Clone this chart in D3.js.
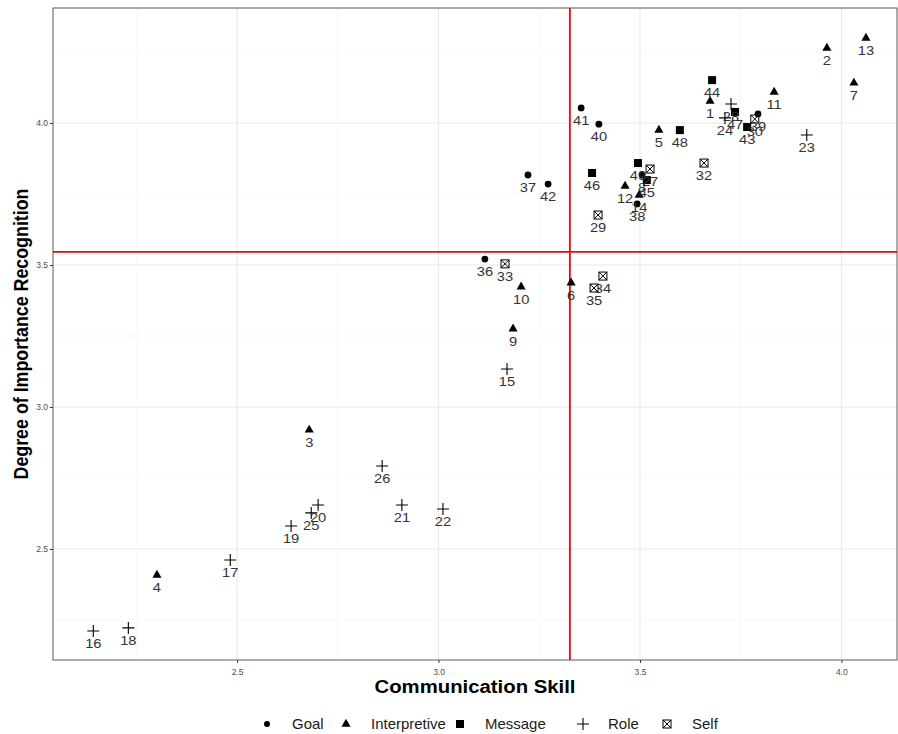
<!DOCTYPE html>
<html>
<head>
<meta charset="utf-8">
<script src="https://cdn.jsdelivr.net/npm/d3@7"></script>
<style>
  body { margin: 0; background: #fff; }
  text { font-family: "Liberation Sans", Arial, sans-serif; }
</style>
</head>
<body>
<div class="canvas"></div>
<script>
// item numbers, their type, communication skill (x) and importance recognition (y)
const ids = [41, 40, 37, 42, 36, 38, 39, 8,
  13, 2, 7, 11, 1, 5, 12, 14, 6, 10, 9, 3, 4,
  44, 48, 46, 49, 45, 47, 43,
  28, 24, 23, 15, 26, 20, 25, 21, 22, 19, 17, 16, 18,
  32, 29, 33, 34, 35, 27, 30];
const types = ['Goal', 'Goal', 'Goal', 'Goal', 'Goal', 'Goal', 'Goal', 'Goal',
  'Interpretive', 'Interpretive', 'Interpretive', 'Interpretive', 'Interpretive', 'Interpretive', 'Interpretive',
  'Interpretive', 'Interpretive', 'Interpretive', 'Interpretive', 'Interpretive', 'Interpretive',
  'Message', 'Message', 'Message', 'Message', 'Message', 'Message', 'Message',
  'Role', 'Role', 'Role', 'Role', 'Role', 'Role', 'Role', 'Role', 'Role', 'Role', 'Role', 'Role', 'Role',
  'Self', 'Self', 'Self', 'Self', 'Self', 'Self', 'Self'];
const commSkill = [3.354, 3.398, 3.222, 3.272, 3.115, 3.493, 3.793, 3.505,
  4.061, 3.964, 4.031, 3.833, 3.674, 3.547, 3.463, 3.498, 3.329, 3.205, 3.185, 2.679, 2.301,
  3.679, 3.599, 3.381, 3.495, 3.517, 3.736, 3.766,
  3.726, 3.711, 3.914, 3.170, 2.860, 2.701, 2.684, 2.909, 3.011, 2.634, 2.483, 2.143, 2.230,
  3.659, 3.396, 3.165, 3.408, 3.386, 3.525, 3.785];
const importance = [4.053, 3.996, 3.817, 3.785, 3.521, 3.715, 4.032, 3.817,
  4.299, 4.264, 4.141, 4.109, 4.077, 3.975, 3.778, 3.746, 3.437, 3.423, 3.275, 2.919, 2.408,
  4.151, 3.975, 3.824, 3.859, 3.799, 4.039, 3.986,
  4.067, 4.018, 3.958, 3.134, 2.792, 2.655, 2.627, 2.655, 2.641, 2.581, 2.461, 2.211, 2.222,
  3.859, 3.676, 3.504, 3.461, 3.419, 3.838, 4.014];

const categories = ['Goal', 'Interpretive', 'Message', 'Role', 'Self'];
const tickValues = [2.5, 3.0, 3.5, 4.0];
const minorTicksX = [2.25, 2.75, 3.25, 3.75];
const minorTicksY = [2.25, 2.75, 3.25, 3.75, 4.25];
const meanSkill = 3.326;       // red vertical line
const meanImportance = 3.546;  // red horizontal line

const data = ids.map((id, i) => ({ id, type: types[i], x: commSkill[i], y: importance[i] }));

const width = 898, height = 734;
const panel = { left: 53, right: 897, top: 8, bottom: 660 };
const stretch = 1.13; // the reference text is a little wider than tall

const svg = d3.select('.canvas').append('svg')
  .attr('width', width)
  .attr('height', height);

const xScale = d3.scaleLinear().domain([2.043, 4.138]).range([panel.left, panel.right]);
const yScale = d3.scaleLinear().domain([2.109, 4.405]).range([panel.bottom, panel.top]);

// grid
const grid = svg.append('g');
grid.selectAll('.minx').data(minorTicksX).join('line')
  .attr('x1', d => xScale(d)).attr('x2', d => xScale(d))
  .attr('y1', panel.top).attr('y2', panel.bottom)
  .attr('stroke', '#f4f4f4').attr('stroke-width', 0.6);
grid.selectAll('.miny').data(minorTicksY).join('line')
  .attr('y1', d => yScale(d)).attr('y2', d => yScale(d))
  .attr('x1', panel.left).attr('x2', panel.right)
  .attr('stroke', '#f4f4f4').attr('stroke-width', 0.6);
grid.selectAll('.majx').data(tickValues).join('line')
  .attr('x1', d => xScale(d)).attr('x2', d => xScale(d))
  .attr('y1', panel.top).attr('y2', panel.bottom)
  .attr('stroke', '#e8e8e8').attr('stroke-width', 1.1);
grid.selectAll('.majy').data(tickValues).join('line')
  .attr('y1', d => yScale(d)).attr('y2', d => yScale(d))
  .attr('x1', panel.left).attr('x2', panel.right)
  .attr('stroke', '#e8e8e8').attr('stroke-width', 1.1);

// axes
const xAxis = svg.append('g')
  .attr('transform', `translate(0,${panel.bottom})`)
  .call(d3.axisBottom(xScale).tickValues(tickValues).tickFormat(d3.format('.1f')).tickSize(3).tickSizeOuter(0));
const yAxis = svg.append('g')
  .attr('transform', `translate(${panel.left},0)`)
  .call(d3.axisLeft(yScale).tickValues(tickValues).tickFormat(d3.format('.1f')).tickSize(3).tickSizeOuter(0));
[xAxis, yAxis].forEach(a => {
  a.select('.domain').remove();
  a.selectAll('line').attr('stroke', '#333');
  a.selectAll('text').attr('fill', '#4d4d4d').style('font-size', '8.5px');
});
xAxis.selectAll('text').attr('y', 9);
yAxis.selectAll('text').attr('x', -5);

// panel border
svg.append('rect')
  .attr('x', panel.left).attr('y', panel.top)
  .attr('width', panel.right - panel.left).attr('height', panel.bottom - panel.top)
  .attr('fill', 'none').attr('stroke', '#333').attr('stroke-width', 0.8);

// reference lines
svg.append('line')
  .attr('x1', xScale(meanSkill)).attr('x2', xScale(meanSkill))
  .attr('y1', panel.top).attr('y2', panel.bottom)
  .attr('stroke', 'red').attr('stroke-width', 1.8);
svg.append('line')
  .attr('y1', yScale(meanImportance)).attr('y2', yScale(meanImportance))
  .attr('x1', panel.left).attr('x2', panel.right)
  .attr('stroke', 'red').attr('stroke-width', 1.8);

// marker drawing
function drawMarker(g, type) {
  switch (type) {
    case 'Goal':
      g.append('circle').attr('r', 3.4).attr('fill', '#000');
      break;
    case 'Interpretive':
      g.append('path').attr('d', d3.symbol(d3.symbolTriangle, 36)()).attr('fill', '#000');
      break;
    case 'Message':
      g.append('rect').attr('x', -4).attr('y', -4).attr('width', 8).attr('height', 8).attr('fill', '#000');
      break;
    case 'Role':
      g.append('path').attr('d', 'M-6,0H6M0,-6V6').attr('stroke', '#000').attr('stroke-width', 1.1);
      break;
    case 'Self':
      g.append('rect').attr('x', -4).attr('y', -4).attr('width', 8).attr('height', 8)
        .attr('fill', 'none').attr('stroke', '#000').attr('stroke-width', 1);
      g.append('path').attr('d', 'M-4,-4L4,4M-4,4L4,-4').attr('stroke', '#000').attr('stroke-width', 1);
      break;
  }
}

const points = svg.append('g').selectAll('g').data(data).join('g')
  .attr('transform', d => `translate(${xScale(d.x)},${yScale(d.y)})`);
points.each(function(d) { drawMarker(d3.select(this), d.type); });

svg.append('g').selectAll('text').data(data).join('text')
  .attr('transform', d => `translate(${xScale(d.x)},${yScale(d.y) + 17}) scale(${stretch},1)`)
  .attr('text-anchor', 'middle')
  .attr('fill', '#333')
  .style('font-size', '13px')
  .text(d => d.id);

// axis titles
svg.append('text')
  .attr('transform', `translate(${(panel.left + panel.right) / 2},693) scale(${stretch},1)`)
  .attr('text-anchor', 'middle')
  .style('font-size', '18px').style('font-weight', 'bold')
  .text('Communication Skill');
svg.append('text')
  .attr('transform', `translate(28,${(panel.top + panel.bottom) / 2}) rotate(-90) scale(0.99,${stretch})`)
  .attr('text-anchor', 'middle')
  .style('font-size', '18px').style('font-weight', 'bold')
  .text('Degree of Importance Recognition');

// legend
const legendX = [267, 346, 460, 583, 667];
const legend = svg.append('g').selectAll('g').data(categories).join('g')
  .attr('transform', (d, i) => `translate(${legendX[i]},724)`);
legend.each(function(d) {
  const g = d3.select(this).append('g');
  drawMarker(g, d);
  if (d === 'Goal') g.select('circle').attr('r', 3);
});
legend.append('text')
  .attr('transform', `translate(25,5) scale(1.07,1)`)
  .style('font-size', '14px')
  .attr('fill', '#1a1a1a')
  .text(d => d);
</script>
</body>
</html>
